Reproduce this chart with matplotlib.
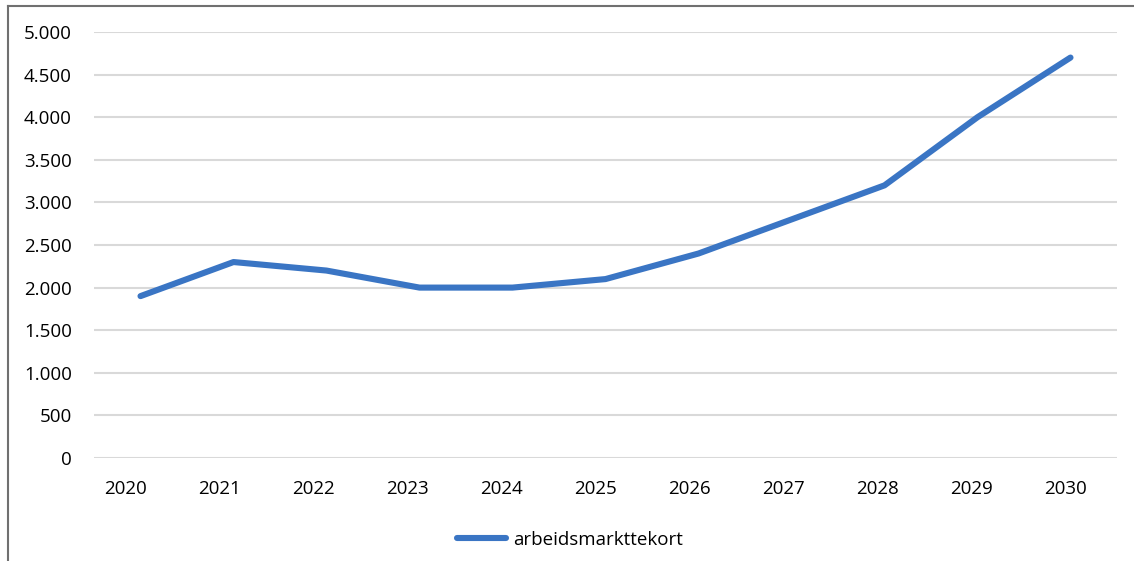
import matplotlib.pyplot as plt
from matplotlib.lines import Line2D
from matplotlib.ticker import FuncFormatter
from matplotlib.transforms import ScaledTranslation

jaren = ['2020', '2021', '2022', '2023', '2024', '2025', '2026', '2027', '2028', '2029', '2030']
tekort = [1900, 2300, 2200, 2000, 2000, 2100, 2400, 2800, 3200, 4000, 4700]
yticks = [0, 500, 1000, 1500, 2000, 2500, 3000, 3500, 4000, 4500, 5000]

plt.rcParams['font.family'] = ['Open Sans', 'DejaVu Sans']

fig = plt.figure(figsize=(11.34, 5.61), dpi=100)
ax = fig.add_axes([94 / 1134, (561 - 458) / 561, (1117 - 94) / 1134, (458 - 32) / 561])

x = range(len(jaren))
ax.plot(x, tekort, color='#3a75c4', lw=4.4, solid_capstyle='round',
        solid_joinstyle='round', label='arbeidsmarkttekort', zorder=3)

ax.set_xlim(-0.5, len(jaren) - 0.5)
ax.set_ylim(0, 5000)
ax.set_yticks(yticks)
ax.yaxis.set_major_formatter(FuncFormatter(lambda v, p: f'{int(v):,}'.replace(',', '.')))
ax.set_xticks(list(x))
ax.set_xticklabels(jaren)
ax.grid(axis='y', color='#d9d9d9', lw=1.5)
ax.set_axisbelow(True)
for s in ax.spines.values():
    s.set_visible(False)
ax.tick_params(axis='both', length=0, labelsize=13.5, colors='black')
ax.tick_params(axis='y', pad=16)
ax.tick_params(axis='x', pad=16)

# jaartallen iets naar links, oplopend minder naar rechts
for i, lbl in enumerate(ax.get_xticklabels()):
    dx = (-10.5 + 0.7 * i) / 72
    lbl.set_transform(lbl.get_transform() + ScaledTranslation(dx, 0, fig.dpi_scale_trans))

handle = Line2D([], [], color='#3a75c4', lw=4.4, solid_capstyle='round')
fig.legend([handle], ['arbeidsmarkttekort'], loc='center', bbox_to_anchor=(570 / 1134, 1 - 540 / 561),
           frameon=False, fontsize=13.5, handlelength=2.6, handletextpad=0.4)

# kader linksboven
fig.add_artist(Line2D([8 / 1134, 8 / 1134], [0, 1 - 6 / 561], color='#707070', lw=1.5))
fig.add_artist(Line2D([8 / 1134, 1], [1 - 6 / 561, 1 - 6 / 561], color='#707070', lw=1.5))

fig.savefig('out.png', dpi=100)
